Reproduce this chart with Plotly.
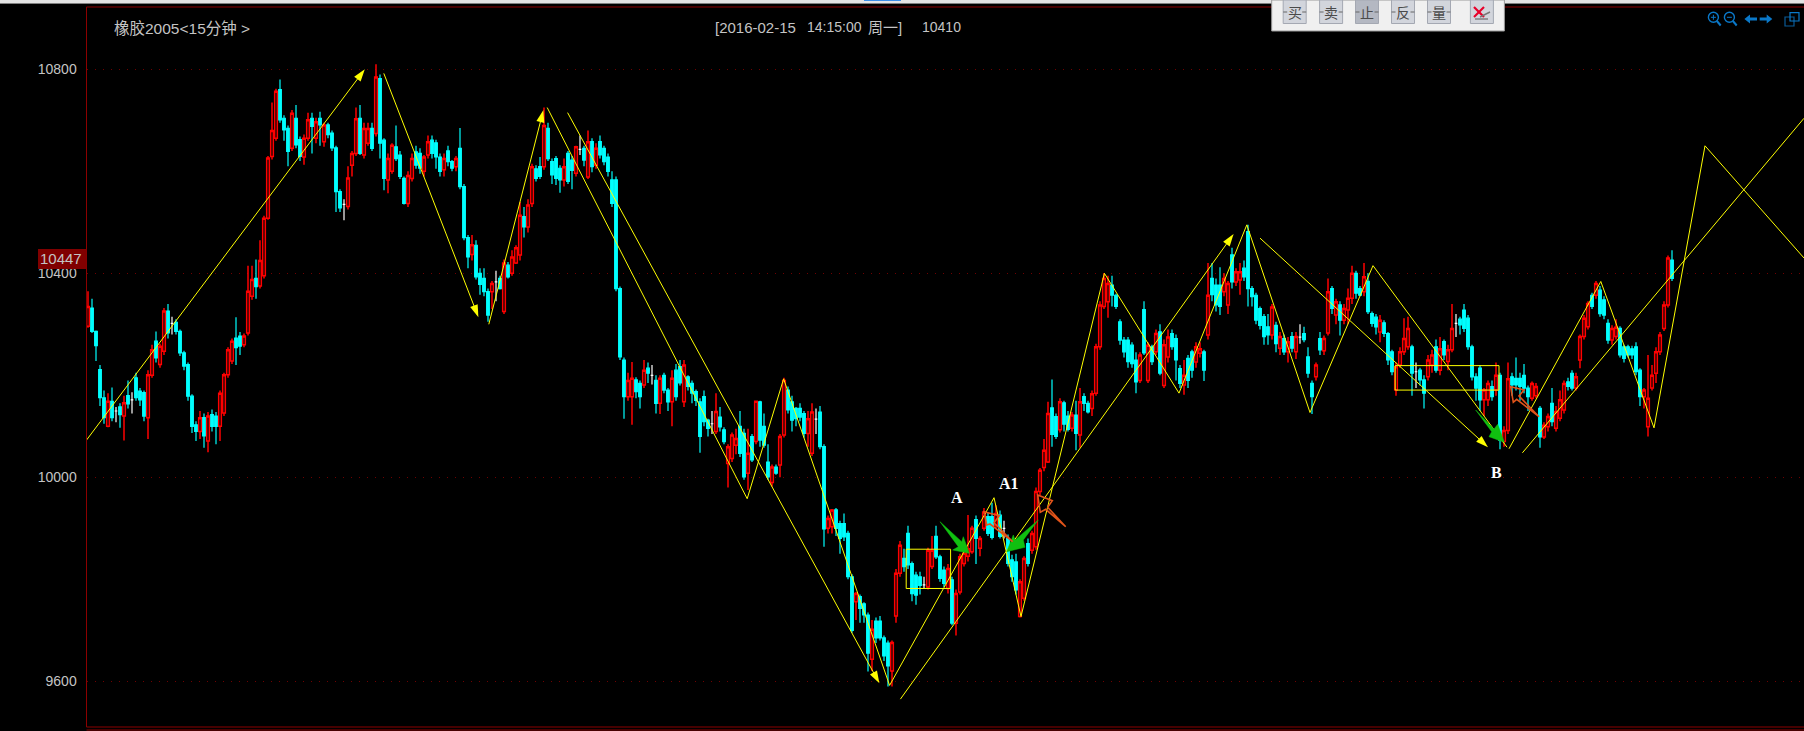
import plotly.graph_objects as go

# (open, close, high, low), grouped by chart leg
leg_a = [
(10296,10335,10365,10293),(10332,10286,10350,10283),(10286,10258,10288,10228),(10211,10156,10220,10140),
(10156,10117,10170,10105),(10100,10149,10165,10098),(10149,10117,10176,10110),(10130,10130,10138,10108),
(10138,10123,10145,10097),(10120,10146,10160,10072),(10160,10144,10190,10135),(10152,10152,10167,10125),
(10195,10156,10205,10150),(10169,10152,10175,10140),(10166,10120,10170,10110),(10117,10201,10210,10075),
(10200,10250,10260,10195),(10267,10234,10286,10225),(10221,10257,10262,10215),(10247,10326,10332,10240),
(10326,10283,10340,10272),(10302,10302,10315,10280),(10304,10286,10310,10280),(10286,10244,10290,10238),
(10244,10218,10248,10210),(10221,10159,10225,10150),(10159,10100,10163,10087),(10103,10090,10110,10071),
(10090,10117,10130,10075),(10117,10081,10125,10058),(10071,10120,10128,10049),(10123,10100,10133,10090),
(10120,10100,10128,10065),(10100,10165,10170,10071),(10126,10201,10205,10120),(10201,10250,10255,10195),
(10228,10267,10272,10222),(10273,10254,10314,10220),(10277,10257,10285,10240),(10260,10277,10282,10255),
(10283,10365,10415,10278),(10355,10388,10415,10348),(10390,10374,10427,10350),(10375,10425,10465,10370),
(10395,10508,10513,10390),(10508,10626,10630,10505),(10629,10680,10735,10623),(10665,10757,10762,10660),
(10760,10701,10780,10695),(10704,10681,10710,10660),(10684,10639,10690,10610),(10645,10714,10720,10640),
(10704,10652,10730,10645),(10662,10629,10668,10620),(10628,10665,10672,10613),(10665,10701,10715,10660),
(10704,10688,10715,10635),(10665,10697,10705,10655),(10704,10691,10717,10650),(10658,10691,10695,10648),
(10691,10672,10695,10665),(10675,10646,10680,10640),(10646,10560,10650,10520),(10560,10528,10565,10520),
(10535,10535,10545,10504),(10531,10587,10610,10525),
]
leg_b = [
(10612,10635,10640,10590),(10635,10703,10725,10630),(10704,10635,10730,10632),(10632,10684,10695,10625),
(10655,10684,10695,10650),(10684,10645,10695,10640),(10674,10785,10810,10668),(10782,10655,10790,10625),
(10661,10586,10665,10563),(10583,10625,10635,10557),(10600,10651,10655,10595),(10648,10625,10690,10620),
(10632,10590,10640,10585),(10586,10537,10590,10535),(10537,10592,10600,10530),(10586,10625,10635,10580),
(10638,10612,10650,10605),(10635,10606,10645,10595),(10600,10628,10632,10590),(10632,10658,10670,10625),
(10661,10635,10670,10625),(10656,10628,10662,10605),(10628,10600,10635,10590),(10603,10625,10635,10590),
(10640,10619,10650,10610),(10619,10606,10622,10600),(10609,10625,10630,10600),(10645,10570,10685,10565),
(10570,10470,10575,10465),(10470,10432,10475,10410),(10437,10456,10475,10425),(10455,10393,10465,10388),
(10400,10378,10410,10358),(10390,10364,10410,10355),(10364,10318,10370,10305),(10364,10380,10385,10330),
(10383,10383,10405,10345),(10390,10370,10395,10368),(10325,10420,10427,10320),(10416,10393,10422,10390),
(10400,10432,10445,10395),(10420,10450,10455,10418),(10436,10514,10540,10425),(10511,10491,10530,10470),
(10491,10534,10545,10480),(10537,10609,10615,10530),(10605,10586,10612,10580),(10609,10590,10628,10585),
(10609,10690,10725,10603),(10684,10625,10695,10620),(10619,10593,10625,10575),(10625,10586,10630,10573),
(10606,10583,10612,10558),(10583,10609,10625,10570),(10635,10580,10640,10575),(10622,10602,10630,10565),
(10596,10648,10650,10590),(10643,10643,10670,10632),(10645,10622,10650,10610),(10589,10658,10680,10585),
(10658,10609,10665,10598),(10612,10645,10655,10605),(10658,10632,10670,10625),(10645,10619,10650,10612),
(10628,10600,10635,10590),(10583,10537,10600,10530),(10583,10370,10590,10365),(10370,10236,10374,10230),
]
leg_c = [
(10230,10158,10235,10115),(10158,10190,10205,10150),(10158,10194,10226,10103),(10191,10168,10196,10155),
(10184,10158,10190,10135),(10181,10210,10230,10175),(10214,10204,10225,10185),(10200,10200,10220,10182),
(10190,10145,10200,10125),(10145,10194,10200,10124),(10200,10171,10205,10165),(10171,10148,10175,10130),
(10148,10194,10210,10100),(10210,10158,10222,10150),(10217,10185,10230,10180),(10148,10220,10230,10138),
(10197,10178,10200,10170),(10184,10165,10190,10145),(10168,10151,10172,10140),(10148,10080,10155,10048),
(10158,10109,10170,10100),(10112,10096,10115,10080),(10105,10105,10130,10085),(10090,10129,10165,10085),
(10118,10099,10138,10090),(10093,10070,10098,10065),(10027,10060,10065,9980),(10037,10083,10088,10030),
(10063,10076,10095,10045),(10100,10047,10130,10040),(10086,10001,10095,9995),(10008,10047,10095,9975),
(10080,10034,10085,10030),(10070,10149,10150,10065),(10148,10073,10150,10060),(10100,10063,10125,10058),
(10030,10001,10065,9995),(9990,10020,10025,9982),(10020,10008,10025,10005),(10024,10080,10085,10000),
(10083,10190,10195,10078),(10171,10132,10178,10125),(10148,10112,10160,10090),(10135,10115,10138,10100),
(10135,10118,10145,10110),(10125,10086,10130,10078),(10086,10115,10130,10060),(10047,10128,10145,10042),
(10114,10114,10135,10085),(10128,10060,10140,10055),(10060,9899,10065,9864),(9900,9919,9925,9890),
(9903,9936,9938,9890),(9936,9900,9940,9885),(9909,9880,9915,9850),(9909,9883,9929,9875),
(9890,9805,9895,9800),(9805,9700,9810,9695),(9756,9772,9775,9720),(9766,9743,9770,9715),
(9752,9730,9755,9715),(9730,9655,9735,9619),(9643,9702,9720,9620),(9718,9685,9725,9675),
(9718,9685,9728,9680),(9685,9650,9690,9640),(9675,9630,9680,9590),(9620,9676,9680,9590),
]
leg_d = [
(9728,9812,9820,9715),(9812,9867,9875,9805),(9841,9825,9860,9815),(9890,9828,9905,9820),
(9831,9772,9835,9757),(9808,9769,9815,9750),(9805,9788,9815,9770),(9789,9789,9805,9782),
(9785,9857,9862,9780),(9825,9857,9885,9820),(9884,9844,9905,9840),(9844,9802,9848,9795),
(9818,9792,9825,9785),(9782,9821,9830,9772),(9799,9714,9805,9710),(9714,9772,9780,9690),
(9775,9844,9850,9770),(9831,9851,9855,9825),(9845,9860,9926,9835),(9854,9900,9905,9850),
(9917,9880,9925,9830),(9861,9880,9885,9845),(9900,9932,9940,9895),(9923,9890,9930,9885),
(9923,9882,9950,9878),(9906,9929,9945,9900),(9926,9884,9935,9880),(9900,9900,9915,9880),
(9880,9831,9888,9825),(9838,9805,9848,9795),(9834,9779,9850,9770),(9727,9795,9800,9725),
(9763,9841,9845,9758),(9870,9831,9880,9825),(9857,9890,9895,9850),(9864,9972,9980,9858),
(9972,10014,10018,9965),(10019,10053,10075,10012),(10030,10125,10148,10028),(10136,10084,10192,10060),
(10119,10080,10125,10075),(10093,10148,10155,10088),(10146,10104,10150,10090),(10120,10094,10130,10090),
(10096,10122,10128,10090),(10122,10086,10150,10053),(10083,10148,10175,10058),(10158,10145,10165,10130),
(10145,10128,10150,10125),(10135,10164,10170,10120),(10165,10256,10262,10160),(10256,10338,10345,10250),
]
leg_e = [
(10335,10390,10400,10330),(10344,10380,10395,10313),(10377,10357,10395,10335),(10357,10335,10360,10330),
(10305,10269,10310,10260),(10269,10246,10275,10235),(10269,10227,10275,10215),(10259,10223,10265,10215),
(10230,10187,10245,10165),(10190,10240,10245,10185),(10329,10244,10345,10240),(10190,10259,10265,10185),
(10256,10227,10260,10220),(10246,10282,10290,10240),(10285,10204,10300,10200),(10180,10260,10270,10175),
(10236,10275,10290,10225),(10282,10256,10290,10250),(10272,10230,10280,10190),(10213,10184,10220,10175),
(10181,10200,10230,10162),(10233,10190,10240,10175),(10246,10210,10250,10195),(10226,10256,10265,10215),
(10243,10252,10265,10235),(10246,10210,10250,10189),(10279,10357,10420,10270),(10390,10358,10420,10345),
(10377,10338,10390,10325),(10377,10335,10412,10318),(10364,10390,10400,10355),(10338,10380,10385,10320),
(10436,10383,10450,10370),(10383,10403,10410,10375),(10387,10403,10420,10358),(10410,10393,10425,10385),
(10482,10370,10495,10335),(10370,10354,10375,10335),(10357,10308,10362,10300),(10331,10298,10335,10290),
(10315,10276,10320,10260),(10295,10279,10320,10260),(10279,10334,10340,10270),(10298,10262,10305,10245),
(10253,10276,10285,10240),(10272,10246,10280,10240),(10246,10266,10275,10225),(10276,10253,10285,10245),
(10246,10276,10285,10232),(10275,10275,10300,10262),(10282,10270,10295,10265),(10236,10204,10255,10195),
(10184,10158,10190,10124),(10197,10220,10225,10190),
]
leg_f = [
(10272,10250,10285,10240),(10248,10272,10278,10240),(10283,10364,10390,10278),(10370,10331,10375,10320),
(10318,10344,10350,10300),(10338,10308,10345,10278),(10308,10331,10340,10300),(10328,10351,10370,10300),
(10351,10400,10415,10340),(10400,10361,10405,10350),(10370,10357,10375,10355),(10364,10393,10420,10355),
(10384,10325,10400,10320),(10321,10302,10325,10295),(10314,10295,10320,10280),(10285,10308,10318,10265),
(10303,10282,10308,10275),(10282,10230,10285,10220),(10246,10207,10250,10200),(10171,10217,10225,10160),
(10220,10246,10255,10215),(10246,10272,10312,10240),(10256,10292,10315,10250),(10256,10204,10260,10160),
(10207,10207,10225,10175),(10210,10191,10215,10180),(10191,10165,10200,10135),(10197,10230,10240,10190),
(10220,10240,10250,10205),(10256,10210,10270,10205),(10210,10252,10275,10200),(10266,10240,10270,10230),
(10227,10250,10260,10210),(10250,10292,10340,10245),(10302,10302,10320,10275),(10310,10299,10315,10280),
(10328,10292,10340,10285),(10312,10256,10318,10250),(10256,10197,10260,10190),(10197,10175,10204,10150),
(10214,10152,10220,10130),(10152,10171,10175,10120),(10152,10184,10190,10140),(10178,10158,10190,10150),
(10171,10200,10225,10160),(10200,10073,10205,10055),(10070,10092,10100,10060),(10092,10193,10225,10085),
]
leg_g = [
(10197,10181,10205,10160),(10194,10181,10235,10170),(10194,10178,10205,10150),(10200,10175,10222,10165),
(10175,10158,10180,10130),(10155,10184,10188,10150),(10160,10178,10185,10155),(10135,10079,10140,10058),
(10079,10102,10108,10075),(10099,10119,10125,10090),(10145,10109,10175,10100),(10096,10129,10140,10090),
(10116,10152,10170,10110),(10132,10184,10190,10125),(10187,10178,10195,10170),(10204,10175,10210,10170),
(10175,10197,10205,10170),(10230,10276,10280,10214),(10276,10312,10318,10270),(10295,10341,10345,10290),
(10357,10335,10362,10330),(10357,10380,10385,10350),(10367,10321,10375,10315),(10348,10318,10355,10310),
(10302,10269,10310,10262),(10269,10292,10298,10260),(10276,10294,10310,10270),(10292,10240,10296,10235),
(10256,10233,10260,10225),(10256,10240,10260,10235),(10252,10240,10258,10232),(10256,10207,10265,10200),
(10210,10158,10214,10140),(10158,10171,10175,10135),(10099,10155,10240,10080),(10175,10200,10220,10170),
(10204,10246,10255,10185),(10246,10279,10285,10240),(10292,10338,10345,10287),(10338,10430,10435,10333),
(10426,10390,10445,10385),
]

# hand-drawn yellow trend lines: bar position, price
zigzag_x = [114.8,164.8,173.9,200.4,226.5,233.25,254.1,272.75,289.7,305.5,321.25,354.75]
zigzag_y = [10725,9958,10193,9592,9960,9727,10400,10165,10495,10127,10415,10059]
zigzag2_x = [355.25,378.2,391.5,404.25,429]
zigzag2_y = [10056,10384,10097,10650,10430]
straight_x = [358.6,429]
straight_y = [10048,10704]
arrow_lines = [
    ([-0.375,69.2],[10073,10800]),
    ([73.95,97.6],[10792,10314]),
    ([100.2,113.85],[10300,10720]),
    ([119.9,197.85],[10715,9596]),
    ([203.1,286.4],[9565,10477]),
    ([293,350],[10469,10059]),
]
boxes = [(204.55,215.65,9782,9859),(326.8,352.75,10171,10219)]

y_ticks = [9600,10000,10400,10800]
title_text = "橡胶2005<15分钟 >"
info_parts = ["[2016-02-15","14:15:00","周一]","10410"]
last_price = "10447"
button_labels = ["买","卖","止","反","量"]

W, H = 1804, 731
rows = leg_a + leg_b + leg_c + leg_d + leg_e + leg_f + leg_g
idx = list(range(len(rows)))
def subset(test):
    sel = [i for i in idx if test(rows[i])]
    return dict(x=sel, open=[rows[i][0] for i in sel], close=[rows[i][1] for i in sel],
                high=[rows[i][2] for i in sel], low=[rows[i][3] for i in sel])

fig = go.Figure()
def candles(data, line, fill, width):
    side = dict(line=dict(color=line, width=width), fillcolor=fill)
    fig.add_trace(go.Candlestick(**data, increasing=side, decreasing=side, whiskerwidth=0,
                                 hoverinfo="skip", showlegend=False))
candles(subset(lambda r: r[1] < r[0]), "#00ffff", "#00ffff", 1.2)
candles(subset(lambda r: r[1] > r[0]), "#ff0000", "#000000", 1.5)
candles(subset(lambda r: r[1] == r[0]), "#ffffff", "#ffffff", 1.2)

YEL = "#ffff00"
for xs, ys in [(zigzag_x, zigzag_y), (zigzag2_x, zigzag2_y), (straight_x, straight_y)]:
    fig.add_trace(go.Scatter(x=xs, y=ys, mode="lines", line=dict(color=YEL, width=1),
                             hoverinfo="skip", showlegend=False))
for xs, ys in arrow_lines:
    fig.add_trace(go.Scatter(x=xs, y=ys, mode="lines+markers", line=dict(color=YEL, width=1),
                             marker=dict(symbol="arrow", size=[0, 13], color=YEL, angleref="previous",
                                         opacity=1, line=dict(width=0)),
                             hoverinfo="skip", showlegend=False))

def P(x, y):
    return f"{x/W:.5f} {1-y/H:.5f}"
def poly(points, **kw):
    path = "M " + " L ".join(P(*p) for p in points) + " Z"
    return dict(type="path", xref="paper", yref="paper", path=path, layer="above", **kw)
def seg(x0, y0, x1, y1, color, width=1):
    return dict(type="line", xref="paper", yref="paper", x0=x0/W, x1=x1/W, y0=1-y0/H, y1=1-y1/H,
                line=dict(color=color, width=width), layer="above")
def rect(x0, y0, x1, y1, fill, line=None, width=1):
    return dict(type="rect", xref="paper", yref="paper", x0=x0/W, x1=x1/W, y0=1-y0/H, y1=1-y1/H,
                fillcolor=fill, line=dict(color=line or fill, width=width if line else 0), layer="above")

FRAME = "#8c0000"
shapes = [
    rect(0, 0, W, 3, "#e4e4e4"), rect(0, 3, W, 4, "#808080"), rect(864, 0, 901, 1, "#3a8ee8"),
    seg(86.5, 7, W, 7, FRAME), seg(86.5, 7, 86.5, 727, FRAME),
    seg(86.5, 727, W, 727, FRAME), seg(86.5, 730, W, 730, FRAME),
    rect(38, 249, 86.5, 269, "#800000"),
]
for x0, x1, p0, p1 in boxes:
    shapes.append(dict(type="rect", xref="x", yref="y", x0=x0, x1=x1, y0=p0, y1=p1,
                       line=dict(color=YEL, width=1), layer="above"))

GREEN = "#10c010"
for pts in [
    [(940,521.7),(961.7,541.7),(963.3,536.7),(969.3,553.3),(952.7,550),(958.3,546.7)],
    [(1038.3,520),(1023.3,540),(1025,547.3),(1006.7,551.7),(1013.3,535),(1015,540)],
    [(1475.7,410),(1494,429),(1497.7,424.3),(1504.3,442.3),(1489,436.7),(1491.7,431.7)],
]:
    shapes.append(poly(pts, fillcolor=GREEN, line=dict(color=GREEN, width=0.5)))
ORANGE = "#e2541a"
for pts in [
    [(1037.7,495),(1052.3,500.7),(1047.7,507.3),(1065.7,526.7),(1045.7,509.3),(1040.3,512.3)],
    [(984,511.7),(999.3,515.7),(994,522.7),(1012.7,541.7),(990,524),(986.7,525)],
    [(1510.7,386.7),(1524,390),(1519,396),(1539,416.7),(1516.7,399.3),(1513.3,402.3)],
]:
    shapes.append(poly(pts, line=dict(color=ORANGE, width=1.6)))

# toolbar
shapes.append(rect(1271.7, 0, 1504.4, 31, "#f0f0f0", "#9a9a9a", 1))
btn_x = [1283.2, 1319.6, 1355.5, 1391.5, 1427.5, 1470.4]
for k, bx in enumerate(btn_x):
    fill = "#b4b8c2" if k == 2 else "#d2d5dc"
    shapes.append(rect(bx, 0, bx+23, 23.5, fill, "#a4a8b2", 1))
    if k < 5:
        shapes.append(seg(bx, 12, bx+4, 12, "#666666"))
        shapes.append(seg(bx+19, 12, bx+23, 12, "#666666"))
shapes += [seg(1474, 7, 1484, 17, "#e8002a", 2.2), seg(1484, 7, 1474, 17, "#e8002a", 2.2),
           seg(1480, 17, 1490, 12, "#777777", 1.5), seg(1475, 19, 1488, 19, "#555555", 1)]

# blue tool icons
BLUE = "#0a78c8"
for cx in (1713.4, 1729.4):
    shapes.append(dict(type="circle", xref="paper", yref="paper", x0=(cx-5)/W, x1=(cx+5)/W,
                       y0=1-(17.3+5)/H, y1=1-(17.3-5)/H, line=dict(color=BLUE, width=1.4), layer="above"))
    shapes.append(seg(cx+3.5, 21, cx+7.3, 25.5, BLUE, 2))
    shapes.append(seg(cx-2.5, 17.3, cx+2.5, 17.3, BLUE, 1))
shapes.append(seg(1713.4, 14.8, 1713.4, 19.8, BLUE, 1))
shapes.append(poly([(1744.4,19),(1750,14.5),(1750,17.5),(1757,17.5),(1757,20.5),(1750,20.5),(1750,23.5)], fillcolor=BLUE, line=dict(width=0)))
shapes.append(poly([(1772.3,19),(1766.7,14.5),(1766.7,17.5),(1759.7,17.5),(1759.7,20.5),(1766.7,20.5),(1766.7,23.5)], fillcolor=BLUE, line=dict(width=0)))
shapes.append(dict(type="rect", xref="paper", yref="paper", x0=1785/W, x1=1794/W, y0=1-26/H, y1=1-17/H, line=dict(color="#0a5a96", width=1.2), layer="above"))
shapes.append(dict(type="rect", xref="paper", yref="paper", x0=1790/W, x1=1799/W, y0=1-21/H, y1=1-12.7/H, line=dict(color=BLUE, width=1.2), layer="above"))

SANS = "Liberation Sans, Noto Sans CJK SC, sans-serif"
GREY = "#c4c4c4"
def label(x, y, text, size=14, color=GREY, family=SANS, anchor="left", bold=False):
    if bold:
        text = f"<b>{text}</b>"
    return dict(xref="paper", yref="paper", x=x/W, y=1-y/H, text=text, showarrow=False, xanchor=anchor,
                yanchor="middle", font=dict(size=size, color=color, family=family), borderpad=0, borderwidth=0)

annotations = [
    label(114, 28, title_text, 15.5),
    label(715, 27, info_parts[0], 15),
    label(806.5, 27, info_parts[1], 14),
    label(868, 27, info_parts[2], 15),
    label(921.5, 27, info_parts[3], 14),
    label(61.5, 258.5, last_price, 15, anchor="center"),
    label(956.7, 497.5, "A", 16, "#ffffff", "Liberation Serif", "center", True),
    label(1009, 483, "A1", 16, "#ffffff", "Liberation Serif", "center", True),
    label(1496, 472, "B", 16, "#ffffff", "Liberation Serif", "center", True),
]
for bx, t in zip(btn_x, button_labels):
    annotations.append(label(bx+11.5, 12, t, 14, "#4a4a4a", "Noto Sans CJK SC", "center"))

X0 = 88.0
PITCH = 4.0
xr = [(86.5-X0)/PITCH, (W-X0)/PITCH]
yr = [10800-(727-69.3)*1.9608, 10800+(69.3-7)*1.9608]
fig.update_layout(
    width=W, height=H, margin=dict(l=0, r=0, t=0, b=0), autosize=False,
    paper_bgcolor="#000000", plot_bgcolor="#000000", showlegend=False, boxmode="overlay", boxgap=0.05,
    xaxis=dict(domain=[86.5/W, 1], range=xr, showgrid=False, showticklabels=False, zeroline=False,
               showline=False, ticks="", rangeslider=dict(visible=False), fixedrange=True),
    yaxis=dict(domain=[4/H, 724/H], range=yr, tickmode="array", tickvals=y_ticks, ticktext=[str(v) for v in y_ticks],
               tickfont=dict(size=14, color=GREY, family=SANS), ticks="outside", ticklen=6, tickcolor="rgba(0,0,0,0)",
               showgrid=True, gridcolor="#700000", griddash="1px,7px", gridwidth=1, zeroline=False, showline=False,
               fixedrange=True),
    shapes=shapes, annotations=annotations,
)
fig.write_html("out.html", config=dict(displayModeBar=False),
               post_script="document.body.style.margin='0';document.documentElement.style.overflow='hidden';")
